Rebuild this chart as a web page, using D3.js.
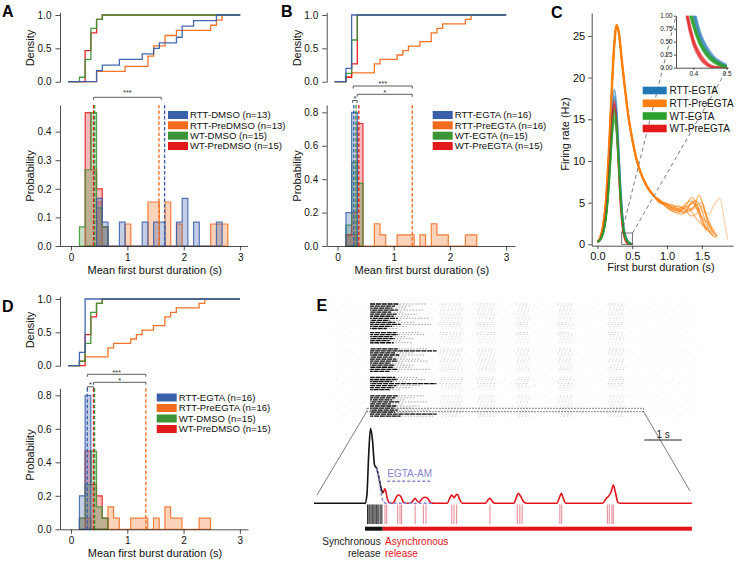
<!DOCTYPE html>
<html><head><meta charset="utf-8">
<script src="https://cdn.jsdelivr.net/npm/d3@7/dist/d3.min.js"></script>
<style>body{margin:0;background:#fff}</style>
</head><body>
<svg id="fig" width="740" height="567" xmlns="http://www.w3.org/2000/svg"></svg>
<script>
// ================= DATA =================
// histogram bins (s): bin k spans binStart + k*binWidth ... + binWidth
const binStart = 0.15;
const binWidth = 0.1012;

const labelsA = ["RTT-DMSO (n=13)","RTT-PreDMSO (n=13)","WT-DMSO (n=15)","WT-PreDMSO (n=15)"];
const labelsB = ["RTT-EGTA (n=16)","RTT-PreEGTA (n=16)","WT-EGTA (n=15)","WT-PreEGTA (n=15)"];
const labelsD = ["RTT-EGTA (n=16)","RTT-PreEGTA (n=16)","WT-DMSO (n=15)","WT-PreDMSO (n=15)"];

// counts per bin
const rttDmsoCounts    = [0,0,0,2,1,0,0,1,0,0,0,1,0,1,1,0,0,1,2,0,1,0,0,0,1,0];
const rttPreDmsoCounts = [0,0,0,2,0,0,0,0,1,0,0,0,2,2,0,2,0,1,0,0,0,0,0,1,1,1];
const wtDmsoCounts     = [1,4,7,2,1];
const wtPreDmsoCounts  = [0,7,4,3,1];
const rttEgtaCounts    = [3,12];
const rttPreEgtaCounts = [1,1,0,0,0,2,1,0,0,1,1,1,0,1,0,2,1,1,0,0,0,1,1];
const wtEgtaCounts     = [2,8,6];
const wtPreEgtaCounts  = [1,3,11];

// group means (s), legend order
const meansA = [1.66,1.56,0.42,0.40];
const meansB = [0.29,1.33,0.33,0.38];
const meansD = [0.29,1.33,0.42,0.40];

// significance brackets [x1, x2, label]
const sigA = [[0.40,1.60,"***"]];
const sigB = [[0.28,1.33,"***"],[0.35,1.33,"*"],[0.27,0.35,"*"]];
const sigD = [[0.29,1.33,"***"],[0.40,1.33,"*"],[0.29,0.40,"*"]];

// Panel C: firing-rate curves
const labelsC = ["RTT-EGTA","RTT-PreEGTA","WT-EGTA","WT-PreEGTA"];
const cX = [0,0.03,0.06,0.09,0.12,0.15,0.18,0.21,0.24,0.27,0.30,0.33,0.36,0.38,0.40,0.42,0.44,0.46,0.48,0.50];
const blueCurves = [
  [0.3,0.5,1.0,1.8,3.4,6.2,10.4,15.4,18.6,17.0,12.5,7.4,3.6,2.0,1.2,0.68,0.4,0.22,0.12,0.05],
  [0.3,0.5,0.9,1.7,3.2,5.9,10.0,14.8,17.8,16.4,12.0,7.0,3.4,1.85,1.1,0.62,0.35,0.18,0.09,0.03],
  [0.3,0.4,0.8,1.6,3.0,5.6,9.5,14.0,16.9,15.6,11.5,6.7,3.2,1.75,1.0,0.55,0.3,0.15,0.07,0.02]];
const redCurves = [
  [0.3,0.5,1.0,1.9,3.6,6.4,10.5,15.0,17.3,15.2,10.2,5.2,2.2,1.15,0.55,0.27,0.1,0.02,0,0],
  [0.3,0.5,0.9,1.8,3.4,6.1,10.1,14.5,16.8,14.8,9.9,5.0,2.1,1.05,0.5,0.22,0.07,0.01,0,0],
  [0.3,0.4,0.9,1.7,3.3,5.9,9.8,14.0,16.2,14.2,9.5,4.8,2.0,1.0,0.45,0.18,0.05,0,0,0]];
const greenCurves = [
  [0.3,0.5,0.9,1.7,3.2,5.8,9.6,13.8,16.2,14.8,10.8,6.2,2.9,1.5,0.9,0.52,0.3,0.17,0.08,0.02],
  [0.3,0.5,0.9,1.6,3.1,5.6,9.3,13.4,15.7,14.4,10.5,6.0,2.8,1.45,0.85,0.48,0.27,0.14,0.06,0.01],
  [0.3,0.4,0.8,1.6,3.0,5.4,9.0,13.0,15.2,14.0,10.2,5.8,2.7,1.4,0.82,0.46,0.25,0.12,0.05,0],
  [0.3,0.4,0.8,1.5,2.9,5.2,8.7,12.6,14.8,13.6,9.9,5.6,2.6,1.35,0.8,0.44,0.23,0.11,0.04,0]];
const orangeHeadX = [0,0.04,0.08,0.12,0.16,0.2,0.24,0.275,0.31,0.35,0.4,0.45,0.5,0.56,0.62,0.7,0.8];
const orangeHeadY = [0.3,0.8,2.2,5.0,10.5,17.5,23.8,26.3,25.2,22.0,18.3,15.0,12.6,10.2,8.6,7.1,5.9];
const orangeTails = [
  [[0.9,5.3],[1.0,4.7],[1.1,4.3],[1.2,4.2],[1.3,4.6],[1.4,5.2],[1.48,4.5],[1.56,2.5],[1.64,1.2],[1.7,0.8]],
  [[0.9,5.0],[0.98,4.9],[1.06,4.3],[1.15,4.0],[1.25,4.4],[1.35,5.6],[1.42,5.0],[1.5,3.0],[1.58,1.8],[1.66,1.0]],
  [[0.9,5.2],[1.0,4.4],[1.1,4.1],[1.2,4.0],[1.3,4.0],[1.38,4.4],[1.46,5.9],[1.52,4.6],[1.6,2.2],[1.7,1.0]],
  [[0.9,5.1],[1.0,4.6],[1.1,4.5],[1.2,3.8],[1.3,3.9],[1.4,4.3],[1.5,4.0],[1.6,3.6],[1.68,4.8],[1.76,5.5],[1.82,3.0],[1.87,0.6]],
  [[0.88,5.4],[0.95,4.9],[1.05,4.8],[1.15,4.3],[1.25,3.8],[1.33,4.8],[1.4,4.9],[1.47,3.8],[1.55,2.0],[1.62,1.4]],
  [[0.9,5.0],[1.0,4.5],[1.1,3.9],[1.2,3.6],[1.28,4.0],[1.36,5.0],[1.42,4.4],[1.5,3.2],[1.58,2.6],[1.66,1.6],[1.72,0.9]],
  [[0.9,5.2],[1.0,4.8],[1.08,4.4],[1.16,4.6],[1.25,4.2],[1.35,3.4],[1.44,3.8],[1.5,4.6],[1.58,3.0],[1.66,1.4]],
  [[0.9,4.9],[0.97,5.0],[1.06,4.4],[1.15,4.2],[1.25,4.6],[1.32,4.3],[1.4,3.3],[1.5,2.4],[1.58,1.8]],
  [[0.88,5.3],[0.97,4.6],[1.06,4.0],[1.16,3.8],[1.26,4.8],[1.36,5.2],[1.44,4.0],[1.5,2.6],[1.56,1.6]],
  [[0.9,5.1],[1.0,4.8],[1.1,4.6],[1.2,4.4],[1.3,4.2],[1.4,4.5],[1.5,5.0],[1.58,3.2],[1.66,1.8],[1.72,1.0]]];
const orangeAlpha = [0.6,0.55,0.6,0.35,0.55,0.5,0.55,0.5,0.55,0.5];

// Panel E: raster (s, per row; 0 = silent row)
const rasterDarkEnd = [1.05,0.9,0.8,1.0,0.75,0.95,0.85,1.0,0.7,0.9,1.1,0.8,0.6, 0, 0.95,1.0,0.8,0.9,0.7,0.85, 0,0,
  1.0,2.4,0.9,1.05,0.8,0.95,1.0,0.75,0.9,0.85,1.0,0.7, 0,0, 0.9,1.0,0.8,2.4,0.95,0.85,0.7, 0,0,
  1.0,0.9,0.8,1.05,0.75,0.95,0.85,1.0,0.9,2.4,1.1];
const rasterTailEnd = [2.0,1.5,1.3,1.9,1.2,1.7,1.4,2.1,1.1,1.6,2.2,1.3,1.0, 0, 1.8,2.0,1.3,1.6,1.1,1.5, 0,0,
  2.1,2.4,1.6,2.0,1.3,1.8,2.1,1.2,1.6,1.5,2.2,1.1, 0,0, 1.7,2.0,1.3,2.4,1.8,1.5,1.1, 0,0,
  2.0,1.6,1.3,2.1,1.2,1.8,1.5,2.2,1.6,2.4,2.3];
const rasterLevel = [0.9,0.6,0.5,0.8,0.4,0.7,0.5,0.8,0.3,0.6,0.9,0.5,0.3, 0, 0.7,0.8,0.4,0.6,0.3,0.5, 0,0,
  0.8,0.9,0.6,0.8,0.4,0.7,0.8,0.4,0.6,0.5,0.9,0.3, 0,0, 0.6,0.8,0.4,0.9,0.7,0.5,0.3, 0,0,
  0.8,0.6,0.4,0.8,0.4,0.7,0.5,0.9,0.6,0.9,0.8];
const clusterCenters = [2.92,4.19,5.52,7.04,8.88];
const clusterHalfWidths = [0.42,0.33,0.24,0.26,0.3];

// Panel E: population trace (s, rate)
const syncTrace = [[-1.364,0],[0,0],[0.05,3.3],[0.1,20],[0.147,30],[0.2,25.3],[0.254,15.3],[0.31,14],[0.374,10.1],[0.428,6.1],[0.473,4]];
const asyncTrace = [[0.473,4],[0.51,5.2],[0.535,5.8],[0.56,4.5],[0.6,1.6],[0.65,0.2],[0.72,0],[0.78,0.6],[0.84,2.6],[0.9,3.3],[0.96,2.6],[1.03,0.4],[1.1,0],[1.22,0],[1.29,1.2],[1.34,2.0],[1.39,1.0],[1.45,0.4],[1.52,1.8],[1.6,2.4],[1.68,1.9],[1.76,0.2],[1.85,0],[2.2,0],[2.27,2.2],[2.32,3.3],[2.38,2.2],[2.43,3.3],[2.47,3.6],[2.53,1.6],[2.6,0],[3.22,0],[3.3,1.6],[3.34,2.0],[3.4,0.8],[3.47,0],[3.98,0],[4.05,2.5],[4.1,4.0],[4.16,2.8],[4.25,0.5],[4.32,0],[5.13,0],[5.2,2.4],[5.25,4.0],[5.3,2.0],[5.37,0],[6.35,0],[6.45,2.0],[6.52,3.0],[6.58,4.5],[6.64,7.3],[6.7,4.0],[6.76,0.4],[6.84,0],[8.74,0]];
const egtaTrace = [[0.31,14],[0.36,11],[0.4,6.6],[0.45,2.5],[0.5,0.4],[0.56,0],[1.78,0]];
const syncSpikes = [0.07,0.1,0.13,0.16,0.19,0.21,0.24,0.27,0.3,0.33,0.37,0.41,0.45];
const asyncSpikes = [0.535,0.58,0.874,0.936,0.98,1.34,1.56,1.63,2.32,2.38,2.45,3.34,4.07,4.14,4.2,5.21,5.26,6.48,6.53,6.6,6.64];
const syncEnd = 0.473, asyncEnd = 8.74;

// ================= DRAWING =================
const svg = d3.select("#fig");
const FF = '"Liberation Sans", Arial, Helvetica, sans-serif';
const COL = ["#3a5fab","#f26b1c","#3b9435","#e31a1c"];
const CC = ["#1f77b4","#ff7f0e","#2ca02c","#e31a1c"];
const drawOrder = [1,3,2,0];
const edge = k => binStart + k*binWidth;

function styleAxis(sel, fs){
  sel.select(".domain").attr("stroke","#222").attr("stroke-width",0.8);
  sel.selectAll(".tick line").attr("stroke","#222").attr("stroke-width",0.8);
  sel.selectAll(".tick text").attr("fill","#111").style("font-family",FF).style("font-size",fs+"px");
}
function text(g,x,y,s,o={}){
  const t = g.append("text").attr("x",x).attr("y",y).text(s)
    .style("font-family",FF).style("font-size",(o.size||11)+"px")
    .attr("fill",o.fill||"#111").attr("text-anchor",o.anchor||"start");
  if(o.weight) t.style("font-weight",o.weight);
  if(o.rotate) t.attr("transform",`rotate(-90,${x},${y})`);
  return t;
}
function histPts(counts){
  const tot = d3.sum(counts);
  let first = counts.findIndex(c=>c>0), last = counts.length-1;
  while(counts[last]===0) last--;
  const pts = [[edge(first),0]];
  for(let k=first;k<=last;k++){ const p = counts[k]/tot; pts.push([edge(k),p],[edge(k+1),p]); }
  pts.push([edge(last+1),0]);
  return pts;
}
function cdfPts(counts){
  const tot = d3.sum(counts); let c = 0; const pts = [[-0.05,0]];
  counts.forEach((n,k)=>{ if(n>0){ pts.push([edge(k),c/tot]); c+=n; pts.push([edge(k),c/tot]); } });
  pts.push([3.0,1]);
  return pts;
}

function histPanel(P){
  const g = svg.append("g");
  const x = d3.scaleLinear().domain(P.xDom).range(P.xRng);
  const yc = d3.scaleLinear().domain([0,1]).range([P.cdf0,P.cdf1]);
  const ycAx = yc.copy().domain([-0.005,1.04]).range([yc(-0.005),yc(1.04)]);
  const yh = d3.scaleLinear().domain([0,P.hMax]).range([P.h0,P.hTop]);

  // CDF
  const ga = g.append("g").attr("transform",`translate(${P.xRng[0]},0)`)
    .call(d3.axisLeft(ycAx).tickValues([0,0.5,1]).tickFormat(d3.format(".1f")).tickSizeInner(4.5).tickSizeOuter(0).tickPadding(4));
  styleAxis(ga,10);
  const cl = d3.line().x(d=>x(d[0])).y(d=>yc(d[1]));
  drawOrder.forEach(i=>{
    g.append("path").attr("d",cl(cdfPts(P.counts[i]))).attr("fill","none")
      .attr("stroke",COL[i]).attr("stroke-width",1.3).attr("stroke-opacity",0.95);
  });

  // histogram
  const hl = d3.line().x(d=>x(d[0])).y(d=>yh(d[1]));
  drawOrder.forEach(i=>{
    g.append("path").attr("d",hl(histPts(P.counts[i]))+"Z")
      .attr("fill",COL[i]).attr("fill-opacity",0.3)
      .attr("stroke",COL[i]).attr("stroke-opacity",0.85).attr("stroke-width",1.2);
  });
  drawOrder.forEach(i=>{
    g.append("line").attr("x1",x(P.means[i])).attr("x2",x(P.means[i]))
      .attr("y1",yh(0)).attr("y2",yh(P.hMax))
      .attr("stroke",COL[i]).attr("stroke-width",1.3).attr("stroke-dasharray","3.5,2");
  });
  const gx = g.append("g").attr("transform",`translate(0,${P.h0})`)
    .call(d3.axisBottom(x).tickValues([0,1,2,3]).tickFormat(d3.format("d")).tickSizeInner(4.5).tickSizeOuter(0).tickPadding(3));
  styleAxis(gx,10);
  const gy = g.append("g").attr("transform",`translate(${P.xRng[0]},0)`)
    .call(d3.axisLeft(yh).tickValues(P.hTicks).tickFormat(d3.format(".1f")).tickSizeInner(4.5).tickSizeOuter(0).tickPadding(4));
  styleAxis(gy,10);

  // legend
  P.labels.forEach((s,i)=>{
    g.append("rect").attr("x",P.legX).attr("y",P.legRows[i]-4).attr("width",20).attr("height",8).attr("fill",COL[i]);
    text(g,P.legX+22,P.legRows[i]+3.4,s,{size:9.6});
  });

  // significance
  P.sig.forEach((s,j)=>{
    const yy = P.sigY[j], x1 = x(s[0]), x2 = x(s[1]);
    g.append("path").attr("d",`M${x1},${yy+2.5}V${yy}H${x2}V${yy+2.5}`)
      .attr("fill","none").attr("stroke","#333").attr("stroke-width",0.8);
    text(g,(x1+x2)/2,yy+P.sigDy,s[2],{size:7.5,anchor:"middle",fill:"#333"});
  });

  // labels
  text(g,P.letter[0],P.letter[1],P.letter[2],{size:16,weight:"bold",fill:"#000"});
  text(g,P.yLabX,P.densY,"Density",{size:11,anchor:"middle",rotate:true});
  text(g,P.yLabX,P.probY,"Probability",{size:11,anchor:"middle",rotate:true});
  text(g,(P.xRng[0]+P.xRng[1])/2+1,P.xLabY,"Mean first burst duration (s)",{size:11,anchor:"middle"});
}

histPanel({
  xDom:[-0.195,3.13], xRng:[60,247.5], cdf0:81.7, cdf1:15,
  h0:246, hTop:105, hMax:0.493, hTicks:[0,0.1,0.2,0.3,0.4],
  counts:[rttDmsoCounts,rttPreDmsoCounts,wtDmsoCounts,wtPreDmsoCounts], means:meansA,
  labels:labelsA, legX:168, legRows:[115,125.3,135.7,146],
  sig:sigA, sigY:[97.3], sigDy:-2.5,
  letter:[2,17,"A"], yLabX:34, densY:48, probY:176, xLabY:274
});
histPanel({
  xDom:[-0.192,3.158], xRng:[326.7,515], cdf0:81.7, cdf1:15,
  h0:246, hTop:105, hMax:0.844, hTicks:[0,0.2,0.4,0.6,0.8],
  counts:[rttEgtaCounts,rttPreEgtaCounts,wtEgtaCounts,wtPreEgtaCounts], means:meansB,
  labels:labelsB, legX:432.7, legRows:[115,125.3,135.7,146],
  sig:sigB, sigY:[86,94.3,100.5], sigDy:0.3,
  letter:[281,17,"B"], yLabX:300.7, densY:48, probY:176, xLabY:274
});
histPanel({
  xDom:[-0.195,3.144], xRng:[60,248], cdf0:365.7, cdf1:299,
  h0:529.3, hTop:388.3, hMax:0.842, hTicks:[0,0.2,0.4,0.6,0.8],
  counts:[rttEgtaCounts,rttPreEgtaCounts,wtDmsoCounts,wtPreDmsoCounts], means:meansD,
  labels:labelsD, legX:156.7, legRows:[397.5,408,418.5,429],
  sig:sigD, sigY:[374.3,382.3,386.8], sigDy:0.3,
  letter:[2,311.7,"D"], yLabX:34, densY:330, probY:455, xLabY:557
});

// ---------- Panel C ----------
(function(){
  const g = svg.append("g");
  const x = d3.scaleLinear().domain([-0.083,1.947]).range([591.7,733]);
  const y = d3.scaleLinear().domain([-0.17,27.75]).range([245.7,13]);
  const line = d3.line().x(d=>x(d[0])).y(d=>y(d[1])).curve(d3.curveMonotoneX);
  const head = orangeHeadX.map((v,i)=>[v,orangeHeadY[i]]);
  orangeTails.forEach((t,i)=>{
    g.append("path").attr("d",line(head.concat(t))).attr("fill","none")
      .attr("stroke",CC[1]).attr("stroke-width",1.3).attr("stroke-opacity",orangeAlpha[i]);
  });
  g.append("path").attr("d",line(head)).attr("fill","none").attr("stroke",CC[1]).attr("stroke-width",2.4);
  const sets = [[blueCurves,CC[0]],[redCurves,CC[3]],[greenCurves,CC[2]]];
  sets.forEach(([cs,c])=>cs.forEach(ys=>{
    g.append("path").attr("d",line(cX.map((v,i)=>[v,ys[i]]))).attr("fill","none")
      .attr("stroke",c).attr("stroke-width",1.6).attr("stroke-opacity",0.6);
  }));
  const gy = g.append("g").attr("transform","translate(591.7,0)")
    .call(d3.axisLeft(y).tickValues([0,5,10,15,20,25]).tickFormat(d3.format("d")).tickSizeInner(3.5).tickSizeOuter(0).tickPadding(3));
  styleAxis(gy,11);
  const gx = g.append("g").attr("transform","translate(0,245.7)")
    .call(d3.axisBottom(x).tickValues([0,0.5,1,1.5]).tickFormat(d3.format(".1f")).tickSizeInner(3.5).tickSizeOuter(0).tickPadding(3));
  styleAxis(gx,11);
  text(g,569,134,"Firing rate (Hz)",{size:11,anchor:"middle",rotate:true});
  text(g,661,271,"First burst duration (s)",{size:11,anchor:"middle"});
  text(g,551,18.3,"C",{size:16,weight:"bold",fill:"#000"});

  // inset
  const ix = d3.scaleLinear().domain([0.348,0.504]).range([676,728]);
  const iy = d3.scaleLinear().domain([0,1]).range([67.7,15.7]);
  const bx0 = x(0.348), bx1 = x(0.504), by0 = y(1.35), by1 = y(0);
  g.append("rect").attr("x",bx0).attr("y",by0).attr("width",bx1-bx0).attr("height",by1-by0)
    .attr("fill","none").attr("stroke","#555").attr("stroke-width",0.8);
  g.append("line").attr("x1",bx0).attr("y1",by0).attr("x2",676).attr("y2",15.7)
    .attr("stroke","#444").attr("stroke-width",0.7).attr("stroke-dasharray","4,3");
  g.append("line").attr("x1",bx1).attr("y1",by0).attr("x2",728).attr("y2",67.7)
    .attr("stroke","#444").attr("stroke-width",0.7).attr("stroke-dasharray","4,3");
  svg.append("defs").append("clipPath").attr("id","insetClip").append("rect")
    .attr("x",676).attr("y",15.7).attr("width",52).attr("height",52);
  const il = d3.line().x(d=>ix(d[0])).y(d=>iy(d[1])).curve(d3.curveMonotoneX);
  const gi = g.append("g").attr("clip-path","url(#insetClip)");
  sets.forEach(([cs,c])=>cs.forEach(ys=>{
    gi.append("path").attr("d",il(cX.map((v,i)=>[v,ys[i]]))).attr("fill","none")
      .attr("stroke",c).attr("stroke-width",2.4).attr("stroke-opacity",0.6);
  }));
  const giy = g.append("g").attr("transform","translate(676,0)")
    .call(d3.axisLeft(iy).tickValues([0,0.25,0.5,0.75,1]).tickFormat(d3.format(".2f")).tickSizeInner(2).tickSizeOuter(0).tickPadding(1.5));
  styleAxis(giy,6.3);
  const gix = g.append("g").attr("transform","translate(0,67.7)")
    .call(d3.axisBottom(ix).tickValues([0.4,0.5]).tickFormat(d3.format(".1f")).tickSizeInner(2).tickSizeOuter(0).tickPadding(1.5));
  styleAxis(gix,6.3);

  // legend
  const rows = [90.5,103.3,116,128.5];
  labelsC.forEach((s,i)=>{
    g.append("rect").attr("x",642.7).attr("y",rows[i]-3.8).attr("width",24).attr("height",7.6).attr("fill",CC[i]);
    text(g,669.5,rows[i]+3.6,s,{size:10});
  });
})();

// ---------- Panel E ----------
(function(){
  const g = svg.append("g");
  text(g,316.5,310.7,"E",{size:16,weight:"bold",fill:"#000"});
  // raster
  const rx = d3.scaleLinear().domain([-1.34,11.8]).range([333,697]);
  const rowY = i => 304 + i*2.04;
  rasterLevel.forEach((lv,i)=>{
    if(lv===0) return;
    const yy = rowY(i);
    g.append("line").attr("x1",rx(-1.34)).attr("x2",rx(11.8)).attr("y1",yy).attr("y2",yy)
      .attr("stroke","#aaa").attr("stroke-width",1).attr("stroke-opacity",lv*0.4)
      .attr("stroke-dasharray","1,13").attr("stroke-dashoffset",i*3.7);
    clusterCenters.forEach((c,k)=>{
      g.append("line").attr("x1",rx(c-clusterHalfWidths[k])).attr("x2",rx(c+clusterHalfWidths[k]))
        .attr("y1",yy).attr("y2",yy).attr("stroke","#888").attr("stroke-width",1)
        .attr("stroke-opacity",lv*0.6).attr("stroke-dasharray","1,2.4").attr("stroke-dashoffset",i*0.7);
    });
    g.append("line").attr("x1",rx(0)).attr("x2",rx(rasterTailEnd[i])).attr("y1",yy).attr("y2",yy)
      .attr("stroke","#666").attr("stroke-width",1).attr("stroke-opacity",0.6)
      .attr("stroke-dasharray","1.5,1.5").attr("stroke-dashoffset",i*0.9);
    g.append("line").attr("x1",rx(0)).attr("x2",rx(rasterDarkEnd[i])).attr("y1",yy).attr("y2",yy)
      .attr("stroke","#111").attr("stroke-width",1.3).attr("stroke-dasharray","5,0.8").attr("stroke-dashoffset",i*1.3);
  });
  g.append("rect").attr("x",367).attr("y",408.3).attr("width",276.3).attr("height",3.4)
    .attr("fill","none").attr("stroke","#333").attr("stroke-width",0.6).attr("stroke-dasharray","2,1");
  g.append("line").attr("x1",367).attr("y1",411).attr("x2",317).attr("y2",495).attr("stroke","#444").attr("stroke-width",0.7);
  g.append("line").attr("x1",643.3).attr("y1",411).attr("x2",690).attr("y2",491).attr("stroke","#444").attr("stroke-width",0.7);

  // trace
  const tx = d3.scaleLinear().domain([-1.364,8.74]).range([314,691.9]);
  const ty = d3.scaleLinear().domain([0,30]).range([503.3,428.3]);
  const tl = d3.line().x(d=>tx(d[0])).y(d=>ty(d[1])).curve(d3.curveMonotoneX);
  g.append("path").attr("d",tl(asyncTrace)).attr("fill","none").attr("stroke","#e3141b").attr("stroke-width",1.6);
  g.append("path").attr("d",tl(syncTrace)).attr("fill","none").attr("stroke","#111").attr("stroke-width",1.6);
  g.append("path").attr("d",tl(egtaTrace)).attr("fill","none").attr("stroke","#8a86d0").attr("stroke-width",1.5).attr("stroke-dasharray","3,2");
  text(g,387.3,477,"EGTA-AM",{size:10,fill:"#8a86d0"});
  g.append("line").attr("x1",387.3).attr("x2",431.7).attr("y1",481.3).attr("y2",481.3)
    .attr("stroke","#8a86d0").attr("stroke-width",1.5).attr("stroke-dasharray","3,2");
  syncSpikes.forEach((t,i)=>{
    g.append("line").attr("x1",tx(t)).attr("x2",tx(t)).attr("y1",504.5).attr("y2",524)
      .attr("stroke",i%2?"#555":"#111").attr("stroke-width",1);
  });
  asyncSpikes.forEach(t=>{
    g.append("line").attr("x1",tx(t)).attr("x2",tx(t)).attr("y1",504.5).attr("y2",524)
      .attr("stroke","#e07080").attr("stroke-width",1).attr("stroke-opacity",0.85);
  });
  g.append("rect").attr("x",tx(0)).attr("y",526.7).attr("width",tx(syncEnd)-tx(0)).attr("height",4).attr("fill","#111");
  g.append("rect").attr("x",tx(syncEnd)).attr("y",526.7).attr("width",tx(asyncEnd)-tx(syncEnd)).attr("height",4).attr("fill","#e3141b");
  g.append("line").attr("x1",tx(7.47)).attr("x2",tx(8.47)).attr("y1",440).attr("y2",440).attr("stroke","#222").attr("stroke-width",1);
  text(g,(tx(7.47)+tx(8.47))/2,437.5,"1 s",{size:10,anchor:"middle",fill:"#222"});
  text(g,380.7,545,"Synchronous",{size:10,anchor:"end",fill:"#222"});
  text(g,380.7,556.5,"release",{size:10,anchor:"end",fill:"#222"});
  text(g,385,545,"Asynchronous",{size:10,fill:"#e3141b"});
  text(g,385,556.5,"release",{size:10,fill:"#e3141b"});
})();
</script>
</body></html>
